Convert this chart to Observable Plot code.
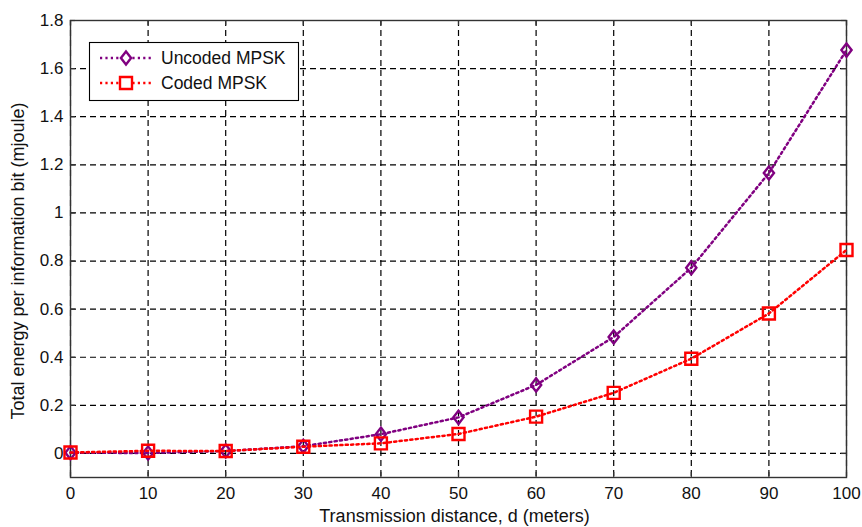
<!DOCTYPE html>
<html><head><meta charset="utf-8">
<script src="https://cdn.jsdelivr.net/npm/d3@7"></script>
<script src="https://cdn.jsdelivr.net/npm/@observablehq/plot@0.6"></script>
<style>html,body{margin:0;padding:0;background:#fff}</style>
</head><body><div id="chart"></div>
<script>
const distance = [0, 10, 20, 30, 40, 50, 60, 70, 80, 90, 100];
const uncoded = [0.003, 0.002, 0.01, 0.03, 0.08, 0.15, 0.285, 0.484, 0.772, 1.166, 1.677];
const coded = [0.004, 0.011, 0.01, 0.028, 0.042, 0.081, 0.153, 0.252, 0.394, 0.582, 0.846];
const seriesNames = ["Uncoded MPSK", "Coded MPSK"];
const xTicks = [0, 10, 20, 30, 40, 50, 60, 70, 80, 90, 100];
const yTicks = [0, 0.2, 0.4, 0.6, 0.8, 1, 1.2, 1.4, 1.6, 1.8];
const yTickLabels = ["0", "0.2", "0.4", "0.6", "0.8", "1", "1.2", "1.4", "1.6", "1.8"];
const xLabel = "Transmission distance, d (meters)";
const yLabel = "Total energy per information bit (mjoule)";

const W = 862, H = 527, mL = 70, mR = 16, mT = 20, mB = 50;
const pw = W - mL - mR, ph = H - mT - mB;
const colors = ["#800080", "#ff0000"];
const font = "'Liberation Sans', Arial, sans-serif";

const diamondSym = {draw(ctx, size) {
  const r = Math.sqrt(size / Math.PI), w = r * 0.85, h = r * 1.1;
  ctx.moveTo(0, -h); ctx.lineTo(w, 0); ctx.lineTo(0, h); ctx.lineTo(-w, 0); ctx.closePath();
}};
const squareSym = {draw(ctx, size) {
  const r = Math.sqrt(size / Math.PI);
  ctx.moveTo(-r, -r); ctx.lineTo(r, -r); ctx.lineTo(r, r); ctx.lineTo(-r, r); ctx.closePath();
}};
const symbols = [diamondSym, squareSym];

const rowsU = distance.map((d, i) => ({d, v: uncoded[i]}));
const rowsC = distance.map((d, i) => ({d, v: coded[i]}));

const dash = "2.2,3.2";
const lineOpts = {strokeWidth: 2.5, strokeDasharray: dash};
const gridOpts = {stroke: "#000", strokeOpacity: 1, strokeDasharray: "6,4", strokeWidth: 1.2};

const chart = Plot.plot({
  width: W, height: H, marginLeft: mL, marginRight: mR, marginTop: mT, marginBottom: mB,
  style: {fontFamily: font, fontSize: "17px", color: "#111", background: "#fff"},
  x: {domain: [0, 100]},
  y: {domain: [-0.1, 1.8]},
  marks: [
    Plot.gridX(xTicks, gridOpts),
    Plot.gridY(yTicks, gridOpts),
    Plot.axisX(xTicks, {tickSize: 0, tickPadding: 9, label: null, tickFormat: d => String(d)}),
    Plot.axisY(yTicks, {tickSize: 0, tickPadding: 7, label: null, tickFormat: d => yTickLabels[yTicks.indexOf(d)]}),
    Plot.tickX(xTicks, {x: d => d, insetTop: ph - 5, stroke: "#333", strokeWidth: 1.2}),
    Plot.tickX(xTicks, {x: d => d, insetBottom: ph - 5, stroke: "#333", strokeWidth: 1.2}),
    Plot.tickY(yTicks, {y: d => d, insetRight: pw - 5, stroke: "#333", strokeWidth: 1.2}),
    Plot.tickY(yTicks, {y: d => d, insetLeft: pw - 5, stroke: "#333", strokeWidth: 1.2}),
    Plot.frame({stroke: "#333", strokeWidth: 1.4}),
    Plot.line(rowsU, {x: "d", y: "v", stroke: colors[0], ...lineOpts}),
    Plot.dot(rowsU, {x: "d", y: "v", symbol: () => "u", stroke: colors[0], r: 6, strokeWidth: 2.4, fill: "none"}),
    Plot.line(rowsC, {x: "d", y: "v", stroke: colors[1], ...lineOpts}),
    Plot.dot(rowsC, {x: "d", y: "v", symbol: () => "c", stroke: colors[1], r: 6, strokeWidth: 2.4, fill: "none"}),
    Plot.text([xLabel], {text: d => d, frameAnchor: "bottom", textAnchor: "middle", lineAnchor: "middle", dy: 38.5, dx: -4, fontSize: 18}),
    Plot.text([yLabel], {text: d => d, frameAnchor: "left", textAnchor: "middle", lineAnchor: "middle", dx: -52, dy: 12, rotate: -90, fontSize: 18})
  ],
  symbol: {domain: ["u", "c"], range: symbols}
});

// Legend inside the plot area
const g = d3.select(chart).append("g").attr("font-family", font).attr("font-size", "17.5px").attr("text-anchor", "start");
g.append("rect").attr("x", 89.5).attr("y", 42.5).attr("width", 209).attr("height", 58)
  .attr("fill", "#fff").attr("stroke", "#000").attr("stroke-width", 1.1);
seriesNames.forEach((name, i) => {
  const cy = 58 + i * 25;
  g.append("line").attr("x1", 100).attr("x2", 152).attr("y1", cy).attr("y2", cy)
    .attr("stroke", colors[i]).attr("stroke-width", 2.5).attr("stroke-dasharray", dash);
  g.append("path").attr("transform", `translate(126,${cy})`)
    .attr("d", d3.symbol(symbols[i], 36 * Math.PI)())
    .attr("fill", "#fff").attr("stroke", colors[i]).attr("stroke-width", 2.4);
  g.append("text").attr("x", 161).attr("y", cy + 6.2).attr("fill", "#111").attr("text-anchor", "start").text(name);
});

document.getElementById("chart").appendChild(chart);
</script>
</body></html>
